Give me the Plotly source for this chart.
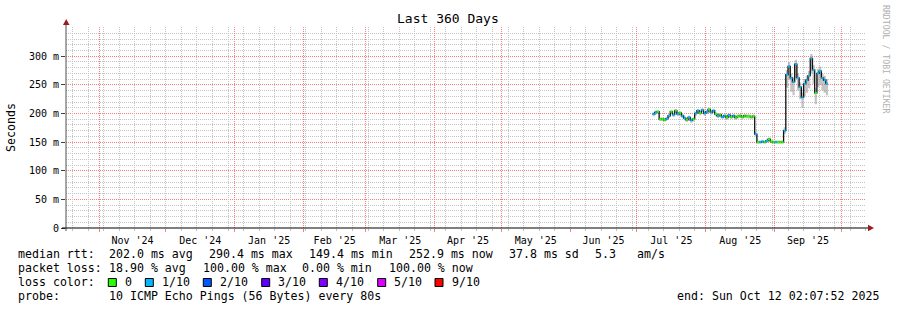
import pandas as pd
import plotly.graph_objects as go

# ---------------- data ----------------
first_day = "2025-07-08"
median_ms = [199, 202, 203, 190, 190, 189, 191, 196, 203, 198,
             205, 199, 201, 196, 192, 189, 193, 188, 190, 200,
             205, 201, 206, 200, 203, 207, 202, 205, 199, 196,
             198, 194, 196, 193, 197, 194, 196, 193, 195, 196,
             194, 196, 195, 195, 194, 195, 164, 150, 150, 151,
             150, 152, 155, 151, 150, 150, 150, 150, 150, 170,
             268, 282, 262, 255, 286, 262, 246, 228, 252, 258,
             266, 296, 276, 236, 270, 274, 262, 258, 252]
smoke_hi_ms = [202, 205, 206, 193, 193, 192, 194, 199, 206, 201,
               208, 202, 204, 199, 195, 192, 196, 191, 193, 203,
               208, 204, 209, 203, 206, 210, 205, 208, 202, 199,
               201, 197, 199, 196, 200, 197, 199, 196, 198, 199,
               197, 199, 198, 198, 197, 198, 167, 153, 153, 154,
               153, 155, 158, 154, 153, 153, 153, 153, 153, 176,
               276, 290, 270, 263, 294, 270, 254, 236, 260, 266,
               274, 304, 284, 244, 278, 282, 270, 266, 260]
smoke_lo_ms = [195, 198, 199, 187, 187, 186, 188, 192, 199, 194,
               201, 195, 197, 192, 188, 185, 189, 184, 186, 196,
               201, 197, 202, 196, 199, 203, 198, 201, 195, 192,
               194, 190, 192, 189, 193, 190, 192, 189, 191, 192,
               190, 192, 191, 191, 190, 191, 160, 147, 147, 148,
               147, 149, 152, 148, 147, 147, 147, 147, 147, 164,
               245, 258, 238, 232, 262, 240, 225, 210, 230, 236,
               244, 270, 252, 216, 246, 250, 240, 236, 232]
loss_tenths = [1, 1, 0, 0, 0, 0, 1, 1, 0, 1,
               0, 1, 0, 1, 1, 0, 1, 1, 0, 1,
               1, 0, 1, 1, 1, 0, 1, 1, 0, 1,
               0, 1, 1, 0, 1, 0, 1, 0, 0, 0,
               0, 0, 0, 0, 0, 0, 1, 0, 1, 1,
               0, 1, 0, 0, 0, 1, 0, 0, 0, 1,
               1, 1, 1, 1, 1, 1, 1, 1, 1, 1,
               1, 1, 1, 0, 1, 1, 1, 1, 1]

range_start = "2024-10-17 02:07:52"
range_end = "2025-10-12 02:07:52"
first_month = "2024-11-01"
first_sunday = "2024-10-20"

y_tick_vals = [0, 50, 100, 150, 200, 250, 300]
y_tick_text = ["0", "50 m", "100 m", "150 m", "200 m", "250 m", "300 m"]

loss_levels = [0, 1, 2, 3, 4, 5, 9]
loss_labels = ["0", "1/10", "2/10", "3/10", "4/10", "5/10", "9/10"]
loss_colors = ["#26ff00", "#00b8ff", "#0059ff", "#5e00ff", "#7e00ff", "#dd00ff", "#ff0000"]

rtt_label = "median rtt:"
rtt_stats = ["202.0 ms avg", "290.4 ms max", "149.4 ms min", "252.9 ms now", "37.8 ms sd", "5.3", "am/s"]
loss_label = "packet loss:"
loss_stats = ["18.90 % avg", "100.00 % max", "0.00 % min", "100.00 % now"]
probe_text = "10 ICMP Echo Pings (56 Bytes) every 80s"
end_text = "end: Sun Oct 12 02:07:52 2025"
title_text = "Last 360 Days"
y_title = "Seconds"
watermark = "RRDTOOL / TOBI OETIKER"

# ---------------- geometry ----------------
W, H = 897, 310
L, R, T, B = 66, 866, 27, 228
FONT = "DejaVu Sans Mono"


def px(x):
    return (x - L) / (R - L)


def py(y):
    return (B - y) / (B - T)


dates = list(pd.date_range(start=first_day, periods=len(median_ms), freq="D"))
one_day = pd.Timedelta(days=1)
x_ext = dates + [dates[-1] + one_day]

fig = go.Figure()

# invisible trace that carries the weekly grid axis
fig.add_trace(go.Scatter(x=[range_start, range_end], y=[None, None], xaxis="x2", mode="lines",
                         hoverinfo="skip", showlegend=False))

# smoke band
fig.add_trace(go.Scatter(x=x_ext, y=smoke_hi_ms + [smoke_hi_ms[-1]], mode="lines",
                         line=dict(width=0, shape="hv", color="#b8b8b8"), hoverinfo="skip"))
fig.add_trace(go.Scatter(x=x_ext, y=smoke_lo_ms + [smoke_lo_ms[-1]], mode="lines",
                         line=dict(width=0, shape="hv", color="#b8b8b8"), fill="tonexty",
                         fillcolor="rgba(150,150,150,0.55)", hoverinfo="skip"))
# black median step line
fig.add_trace(go.Scatter(x=x_ext, y=median_ms + [median_ms[-1]], mode="lines",
                         line=dict(width=1.3, shape="hv", color="#111111"), hoverinfo="skip"))
# loss-coloured median segments
for lvl, col in zip(loss_levels, loss_colors):
    xs, ys = [], []
    for d, v, l in zip(dates, median_ms, loss_tenths):
        if l == lvl:
            xs += [d, d + one_day, None]
            ys += [v, v, None]
    if xs:
        fig.add_trace(go.Scatter(x=xs, y=ys, mode="lines", line=dict(width=2, color=col),
                                 hoverinfo="skip"))

grid_major = "#ff7a7a"
grid_minor = "#c4c4c4"

fig.update_layout(
    width=W, height=H,
    margin=dict(l=L, r=W - R, t=T, b=H - B),
    paper_bgcolor="white", plot_bgcolor="white",
    showlegend=False,
    font=dict(family=FONT, size=10, color="black"),
    xaxis2=dict(
        type="date", range=[range_start, range_end], overlaying="x", side="bottom",
        anchor="y", dtick=7 * 86400000, tick0=first_sunday,
        showgrid=True, gridcolor=grid_minor, griddash="1px,1px", gridwidth=1,
        showticklabels=False, ticks="outside", ticklen=2, tickcolor="#c0c0c0",
        zeroline=False, showline=False, fixedrange=True, layer="below traces",
    ),
    xaxis=dict(
        type="date", range=[range_start, range_end],
        dtick="M1", tick0=first_month, ticklabelmode="period", tickformat="%b '%y",
        showgrid=True, gridcolor=grid_major, griddash="1px,1px", gridwidth=1,
        ticks="outside", ticklen=3, tickcolor="#ff8080",
        tickfont=dict(family=FONT, size=10, color="black"),
        zeroline=False, showline=False, fixedrange=True,
    ),
    yaxis=dict(
        range=[0, 351], tickvals=y_tick_vals, ticktext=y_tick_text,
        showgrid=True, gridcolor=grid_major, griddash="1px,1px",
        ticks="outside", ticklen=4, tickcolor="#404040",
        tickfont=dict(family=FONT, size=10, color="black"),
        minor=dict(dtick=10, showgrid=True, gridcolor=grid_minor, griddash="1px,1px"),
        zeroline=False, showline=False, fixedrange=True,
    ),
)

# axes lines and arrows
fig.add_shape(type="line", xref="paper", yref="paper", x0=px(66), x1=px(66), y0=py(231), y1=py(22),
              line=dict(color="#505050", width=1), layer="above")
fig.add_shape(type="line", xref="paper", yref="paper", x0=px(62), x1=px(868), y0=py(228), y1=py(228),
              line=dict(color="#000000", width=1.2), layer="above")
fig.add_shape(type="path", xref="paper", yref="paper", layer="above",
              path=f"M {px(63)},{py(25)} L {px(69.5)},{py(25)} L {px(66.2)},{py(19)} Z",
              fillcolor="#9b1c1c", line=dict(width=0))
fig.add_shape(type="path", xref="paper", yref="paper", layer="above",
              path=f"M {px(868)},{py(224.8)} L {px(868)},{py(231.3)} L {px(874)},{py(228)} Z",
              fillcolor="#9b1c1c", line=dict(width=0))


def text(x, y, s, size=11.6, anchor="left", color="black", angle=0):
    fig.add_annotation(xref="paper", yref="paper", x=px(x), y=py(y), text=s, showarrow=False,
                       xanchor=anchor, yanchor="middle", textangle=angle,
                       font=dict(family=FONT, size=size, color=color))


text(448, 19, title_text, size=13, anchor="center")
text(11, 127, y_title, size=11.6, anchor="center", angle=-90)
text(886, 60, watermark, size=8.2, anchor="center", color="#b0b0b0", angle=90)

# legend rows
text(16, 254, rtt_label)
for xpos, s in zip([107, 207, 307, 407, 507, 593, 635], rtt_stats):
    text(xpos, 254, s)
text(16, 268, loss_label)
for xpos, s in zip([107, 201, 300, 386.7], loss_stats):
    text(xpos, 268, s)
text(16, 282, "loss color:")
box_x = [108.3, 145.3, 203.3, 261.7, 319.3, 377.7, 435]
for bx, lab, col in zip(box_x, loss_labels, loss_colors):
    fig.add_shape(type="rect", xref="paper", yref="paper",
                  x0=px(bx), x1=px(bx + 8), y0=py(286.5), y1=py(278.5),
                  fillcolor=col, line=dict(color="black", width=1))
    text(bx + 14.5, 282, lab)
text(16, 296, "probe:")
text(107, 296, probe_text)
text(881, 296, end_text, anchor="right")

fig.write_html("out.html")
